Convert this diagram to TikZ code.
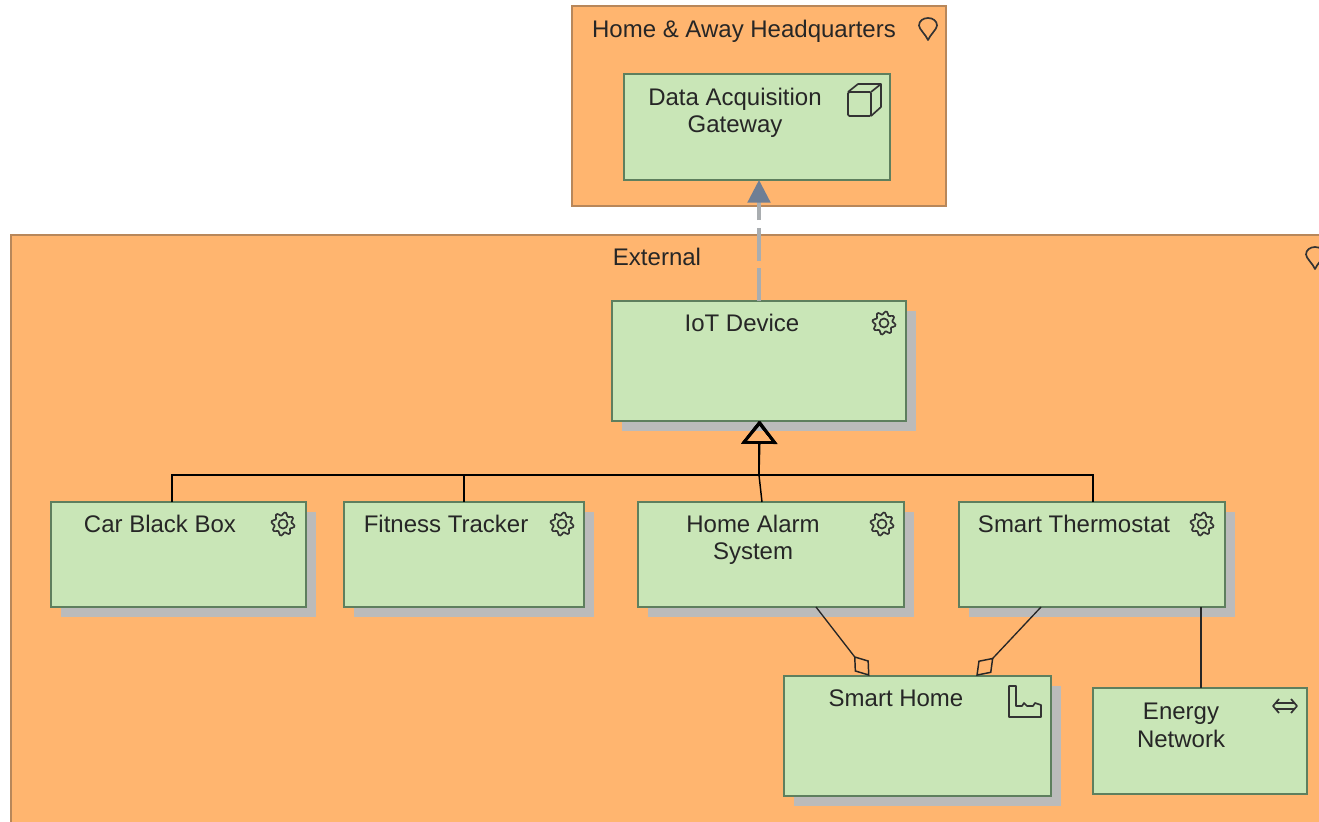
\documentclass[tikz,border=0pt]{standalone}
\usepackage{fontspec}
\setmainfont{Liberation Sans}
\usetikzlibrary{arrows.meta,shadows}
\definecolor{sitefill}{HTML}{FFB56F}
\definecolor{siteline}{HTML}{B8875A}
\definecolor{boxfill}{HTML}{C9E6B7}
\definecolor{boxline}{HTML}{5E7F5E}
\definecolor{boxshadow}{HTML}{BBBBBB}
\definecolor{realizeline}{HTML}{6F7F95}
\definecolor{realizedash}{HTML}{A9ADB0}
\tikzstyle{site} = [rectangle, draw=siteline, fill=sitefill, line width=0.9pt, inner sep=0pt, outer sep=0pt]
\tikzstyle{device} = [rectangle, draw=boxline, fill=boxfill, line width=1pt, inner sep=0pt, outer sep=0pt]
\tikzstyle{shadowed} = [device, general shadow={shadow xshift=7.8pt, shadow yshift=-7.5pt, fill=boxshadow}]
\tikzstyle{boxtext} = [font=\fontsize{18}{20.5}\selectfont, text=black!85, align=center, inner sep=0pt, outer sep=0pt, anchor=north, yshift=-9.8pt]
\tikzstyle{icon} = [draw=black!80, line width=1.25pt, line join=round]
\tikzstyle{realize} = [draw=realizedash, line width=2.4pt, dash pattern=on 24.75pt off 5.6pt, -{Triangle[length=17pt, width=17pt, color=realizeline]}]
\tikzstyle{generalize} = [draw=black, line width=1.1pt, -{Triangle[open, length=17pt, width=26.5pt, line width=1.8pt]}]
\tikzstyle{aggregate} = [draw=black!85, line width=1pt, -{Diamond[open, length=19pt, width=13.5pt, line width=1.1pt]}]
\newcommand{\gearicon}[1]{\begin{scope}[shift={(#1)}]
	\draw [icon] plot [smooth cycle, domain=0:352.5, samples=48] (\x:{10.1+1.7*sin(8*\x)});
	\draw [icon] (0,0) circle (4.5);
\end{scope}}
\newcommand{\pinicon}[1]{\begin{scope}[shift={(#1)}]
	\draw [icon] (0,11) .. controls (-2,6) and (-9,0) .. (-9,-3.5) .. controls (-9,-8) and (-5,-11) .. (0,-11)
		.. controls (5,-11) and (9,-8) .. (9,-3.5) .. controls (9,0) and (2,6) .. (0,11) -- cycle;
\end{scope}}
\newcommand{\cubeicon}[1]{\begin{scope}[shift={(#1)}]
	\draw [icon, rounded corners=1pt] (0,8) rectangle (23,32);
	\draw [icon] (0,8) -- (10,0) -- (33,0) -- (33,23) -- (23,32);
	\draw [icon] (23,8) -- (33,0);
\end{scope}}
\newcommand{\factoryicon}[1]{\begin{scope}[shift={(#1)}]
	\draw [icon] (0,0) -- (7,0) -- (7,20) -- (13,20) -- (15,17) -- (18,20) -- (24,20) -- (26,17) -- (32,19) -- (32,31) -- (0,31) -- cycle;
\end{scope}}
\newcommand{\networkicon}[1]{\begin{scope}[shift={(#1)}]
	\draw [icon] (-6,-7) -- (-12,0) -- (-6,7);
	\draw [icon] (6,-7) -- (12,0) -- (6,7);
	\draw [icon] (-9,-3) -- (9,-3);
	\draw [icon] (-9,3) -- (9,3);
\end{scope}}

\begin{document}
\begin{tikzpicture}[x=0.75pt, y=-0.75pt, node distance=75pt]
	\useasboundingbox (0,0) rectangle (1319,821);

	\node (external) [site, minimum width=993pt, minimum height=450pt, label={[boxtext, name=externaltext, xshift=-12pt]above:External}] at (673,535) {};
	\node (hq) [site, minimum width=280.5pt, minimum height=150pt, label={[boxtext, name=hqtext, xshift=-11.25pt, yshift=-0.8pt]above:Home \& Away Headquarters}] at (759,106) {};

	\node (gateway) [device, below of=hq, yshift=59.25pt, xshift=-1.5pt, minimum width=199.5pt, minimum height=79.5pt, label={[boxtext, name=gatewaytext, xshift=-16.5pt, yshift=-0.8pt]above:Data Acquisition\\Gateway}] {};
	\node (iot) [shadowed, below of=gateway, yshift=-100.5pt, xshift=1.5pt, minimum width=220.5pt, minimum height=90pt, label={[boxtext, name=iottext, xshift=-12.75pt]above:IoT Device}] {};
	\node (car) [shadowed, below of=iot, yshift=-70.125pt, xshift=-435.375pt, minimum width=191.25pt, minimum height=78.75pt, label={[boxtext, name=cartext, xshift=-13.875pt]above:Car Black Box}] {};
	\node (fitness) [shadowed, right of=car, xshift=139.125pt, minimum width=180pt, minimum height=78.75pt, label={[boxtext, name=fitnesstext, xshift=-13.5pt]above:Fitness Tracker}] {};
	\node (alarm) [shadowed, right of=fitness, xshift=155.25pt, minimum width=199.5pt, minimum height=78.75pt, label={[boxtext, name=alarmtext, xshift=-13.5pt]above:Home Alarm\\System}] {};
	\node (thermostat) [shadowed, right of=alarm, xshift=165.75pt, minimum width=199.5pt, minimum height=78.75pt, label={[boxtext, name=thermostattext, xshift=-13.5pt]above:Smart Thermostat}] {};
	\node (home) [shadowed, below of=alarm, xshift=109.875pt, yshift=-61.125pt, minimum width=200.25pt, minimum height=90pt, label={[boxtext, name=hometext, xshift=-16.125pt, yshift=-0.8pt]above:Smart Home}] {};
	\node (energy) [device, below of=thermostat, xshift=81pt, yshift=-64.875pt, minimum width=160.5pt, minimum height=79.5pt, label={[boxtext, name=energytext, xshift=-14.25pt, yshift=-1.6pt]above:Energy\\Network}] {};

	\pinicon{[shift={(-18,23)}]hq.north east}
	\pinicon{[shift={(-20,23)}]external.north east}
	\cubeicon{[shift={(-42,10)}]gateway.north east}
	\gearicon{[shift={(-22,22)}]iot.north east}
	\gearicon{[shift={(-23,22)}]car.north east}
	\gearicon{[shift={(-22,22)}]fitness.north east}
	\gearicon{[shift={(-22,22)}]alarm.north east}
	\gearicon{[shift={(-23,22)}]thermostat.north east}
	\factoryicon{[shift={(-42,10)}]home.north east}
	\networkicon{[shift={(-22,18)}]energy.north east}

	\draw [realize] (iot.north) -- (gateway.south -| iot.north);

	\draw [generalize] ([xshift=-4.875pt]car.north) -- ++(0,-27) -| (iot.south);
	\draw [generalize] (fitness.north) -- ++(0,-27) -| (iot.south);
	\draw [generalize] ([xshift=-6.75pt]alarm.north) -- ++(-3,-27) -- ([xshift=1pt]iot.south);
	\draw [generalize] ([xshift=0.75pt]thermostat.north) -- ++(0,-27) -| (iot.south);

	\draw [aggregate] ([xshift=-66pt]alarm.south east) -- ([xshift=-36pt]home.north);
	\draw [aggregate] ([xshift=-138pt]thermostat.south east) -- ([xshift=44pt]home.north);
	\draw [draw=black!85, line width=1pt] ([xshift=-18pt]thermostat.south east) -- ([xshift=0.75pt]energy.north);
\end{tikzpicture}
\end{document}
